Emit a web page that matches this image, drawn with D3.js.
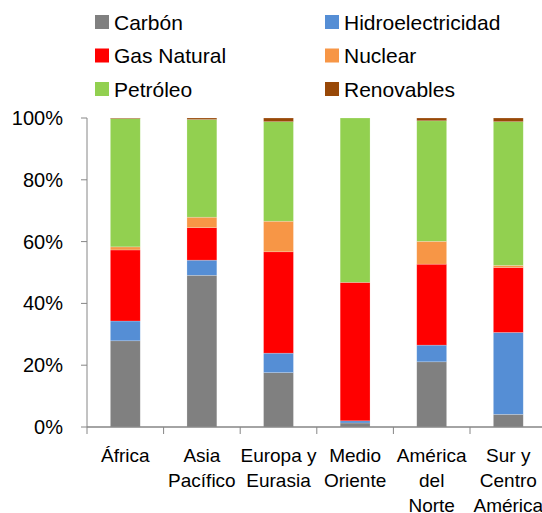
<!DOCTYPE html>
<html>
<head>
<meta charset="utf-8">
<script src="https://cdn.jsdelivr.net/npm/d3@7"></script>
<style>
  html, body { margin: 0; padding: 0; background: #fff; }
  svg { display: block; font-family: "Liberation Sans", Arial, sans-serif; }
</style>
</head>
<body>
<svg id="chart" width="542" height="513"></svg>
<script>
// ---- data ----
const categories = ["África", "Asia Pacífico", "Europa y Eurasia", "Medio Oriente", "América del Norte", "Sur y Centro América"];
const categoryLines = [["África"], ["Asia", "Pacífico"], ["Europa y", "Eurasia"], ["Medio", "Oriente"], ["América", "del", "Norte"], ["Sur y", "Centro", "América"]];
const seriesNames = ["Carbón", "Hidroelectricidad", "Gas Natural", "Nuclear", "Petróleo", "Renovables"];
const carbon      = [27.9, 49.1, 17.6,  1.3, 21.1,  4.1];
const hidro       = [ 6.4,  4.9,  6.3,  0.7,  5.4, 26.5];
const gas         = [23.0, 10.5, 32.8, 44.8, 26.2, 21.0];
const nuclear     = [ 1.0,  3.4,  9.9,  0.0,  7.4,  0.7];
const petroleo    = [41.5, 31.6, 32.2, 53.2, 39.0, 46.5];
const renovables  = [ 0.2,  0.5,  1.2,  0.0,  0.9,  1.2];
const seriesColors = ["#808080", "#558ED5", "#FF0000", "#F79646", "#92D050", "#984807"];
const yTicks = [0, 20, 40, 60, 80, 100];
const yTickLabels = ["0%", "20%", "40%", "60%", "80%", "100%"];

// ---- build table ----
const seriesValues = [carbon, hidro, gas, nuclear, petroleo, renovables];
const table = categories.map((c, i) => {
  const row = { cat: c };
  seriesNames.forEach((s, j) => row[s] = seriesValues[j][i]);
  return row;
});
const stacked = d3.stack().keys(seriesNames)(table);

const svg = d3.select("#chart");
const plotLeft = 87, plotBottom = 427, plotTop = 118;
const step = 76.6;
const x = d3.scaleBand().domain(categories)
  .range([plotLeft, plotLeft + step * categories.length])
  .paddingInner(0.61).paddingOuter(0.305);
const y = d3.scaleLinear().domain([0, 100]).range([plotBottom, plotTop]);
const color = d3.scaleOrdinal().domain(seriesNames).range(seriesColors);

// bars
svg.append("g").selectAll("g").data(stacked).join("g")
  .attr("fill", d => color(d.key))
  .selectAll("rect").data(d => d).join("rect")
  .attr("x", d => x(d.data.cat))
  .attr("width", x.bandwidth())
  .attr("y", d => y(d[1]))
  .attr("height", d => Math.max(0, y(d[0]) - y(d[1])))
  .attr("stroke", "rgba(255,255,255,0.35)")
  .attr("stroke-width", 0.6);

// y axis
const axisColor = "#868686";
const yAxis = svg.append("g");
yAxis.append("line").attr("x1", plotLeft).attr("x2", plotLeft)
  .attr("y1", y(0)).attr("y2", y(100)).attr("stroke", axisColor).attr("stroke-width", 1);
yAxis.selectAll("line.tick").data(yTicks).join("line").attr("class", "tick")
  .attr("x1", plotLeft - 6).attr("x2", plotLeft)
  .attr("y1", d => y(d)).attr("y2", d => y(d))
  .attr("stroke", axisColor);
yAxis.selectAll("text").data(yTicks).join("text")
  .attr("x", 63).attr("y", d => y(d) + 7)
  .attr("text-anchor", "end")
  .attr("font-size", 20)
  .attr("fill", "#000")
  .text((d, i) => yTickLabels[i]);

// x axis
const xAxis = svg.append("g");
const xr = x.range();
xAxis.append("line").attr("x1", xr[0]).attr("x2", xr[1])
  .attr("y1", plotBottom).attr("y2", plotBottom).attr("stroke", axisColor).attr("stroke-width", 1.5);
const boundaries = d3.range(categories.length + 1).map(i => xr[0] + i * x.step());
xAxis.selectAll("line.tick").data(boundaries).join("line").attr("class", "tick")
  .attr("x1", d => d).attr("x2", d => d)
  .attr("y1", plotBottom).attr("y2", plotBottom + 7)
  .attr("stroke", axisColor);
const lab = xAxis.selectAll("text").data(categories).join("text")
  .attr("text-anchor", "middle")
  .attr("font-size", 19)
  .attr("fill", "#000");
lab.each(function(d, i) {
  const t = d3.select(this);
  categoryLines[i].forEach((ln, k) => {
    t.append("tspan")
      .attr("x", x(d) + x.bandwidth() / 2)
      .attr("y", 462 + k * 25)
      .text(ln);
  });
});

// legend
const legend = svg.append("g");
const legX = [95, 325], legY = [22, 55.5, 89];
seriesNames.forEach((s, i) => {
  const col = i % 2, row = Math.floor(i / 2);
  const g = legend.append("g");
  g.append("rect").attr("x", legX[col]).attr("y", legY[row] - 7)
    .attr("width", 14).attr("height", 14).attr("fill", color(s));
  g.append("text").attr("x", legX[col] + 19).attr("y", legY[row] + 7.5)
    .attr("font-size", 21).attr("fill", "#000").text(s);
});
</script>
</body>
</html>
